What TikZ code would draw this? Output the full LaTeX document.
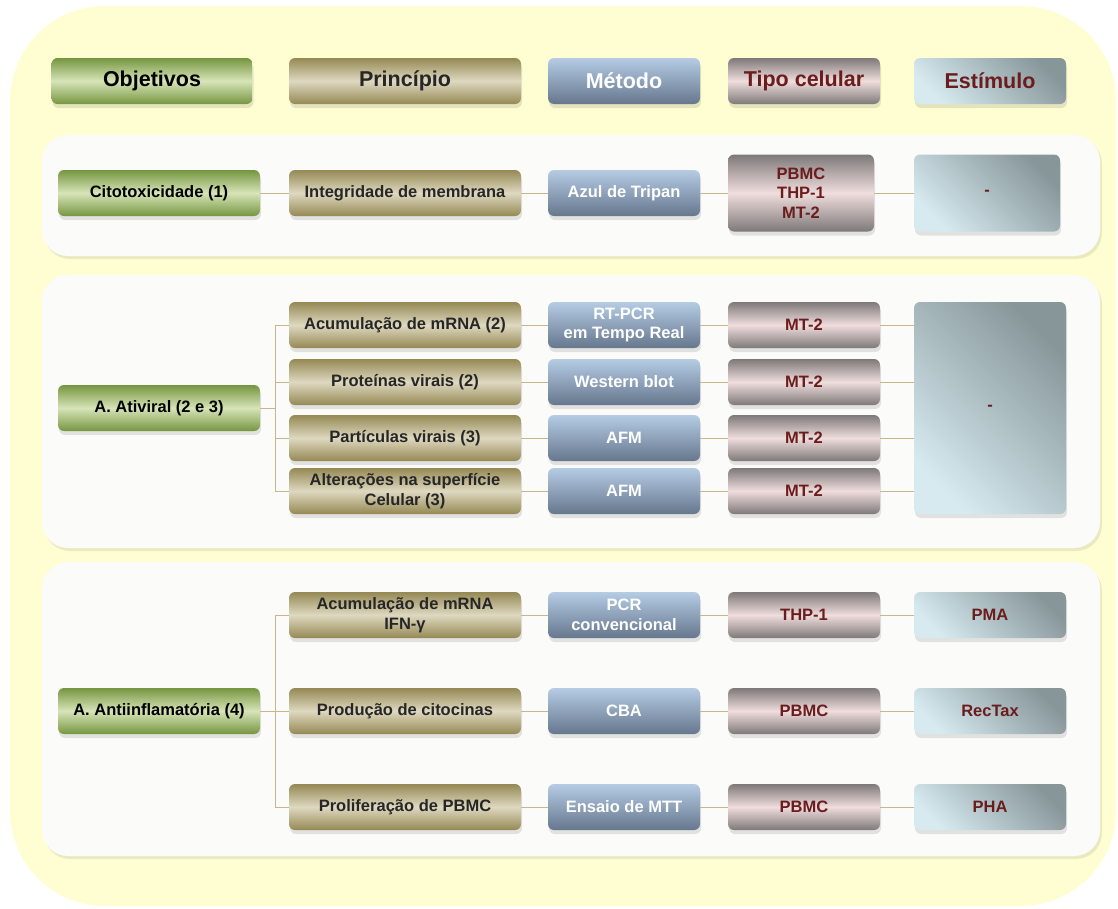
\documentclass[tikz,border=0pt]{standalone}
\usepackage{fontspec}
\setmainfont{Liberation Sans}
\usetikzlibrary{shadows}

\definecolor{bgyellow}{HTML}{FEFED2}
\definecolor{panelgray}{HTML}{FBFBFA}
\definecolor{greendark}{HTML}{759640}
\definecolor{greenlight}{HTML}{D7E4B8}
\definecolor{olivedark}{HTML}{958954}
\definecolor{olivelight}{HTML}{DED8C0}
\definecolor{bluelight}{HTML}{B5CCE5}
\definecolor{bluedark}{HTML}{66778D}
\definecolor{pinkgray}{HTML}{7E7979}
\definecolor{pinklight}{HTML}{F0DDDD}
\definecolor{cyanlight}{HTML}{D6EAF0}
\definecolor{cyandark}{HTML}{879699}
\definecolor{darkred}{HTML}{6B1C1C}
\definecolor{linkcol}{HTML}{C8B78C}

\tikzset{
  box/.style={rounded corners=6pt, inner sep=0pt, minimum height=46pt, align=center,
    font=\fontsize{16.5}{19.5}\selectfont\bfseries,
    drop shadow={shadow xshift=1pt, shadow yshift=-4pt, opacity=0.10, fill=black}},
  headbox/.style={box, font=\fontsize{21.5}{24}\selectfont\bfseries},
  objbox/.style={top color=greendark, bottom color=greendark, middle color=greenlight,
    minimum width=202pt},
  prbox/.style={top color=olivedark, bottom color=olivedark, middle color=olivelight,
    minimum width=232pt, text=black!85},
  mebox/.style={top color=bluelight, bottom color=bluedark, minimum width=152pt, text=white},
  cebox/.style={top color=pinkgray, bottom color=pinkgray, middle color=pinklight,
    minimum width=152pt, text=darkred},
  stbox/.style={bottom color=cyanlight, top color=cyandark, shading angle=-45,
    minimum width=152pt, text=darkred},
  panel/.style={fill=panelgray, rounded corners=26pt,
    drop shadow={shadow xshift=2pt, shadow yshift=-3pt, opacity=0.08, fill=black}},
  link/.style={draw=linkcol, line width=1pt}
}

\begin{document}
\begin{tikzpicture}[x=1pt, y=-1pt]
  \useasboundingbox (0,0) rectangle (1118,908);
  % Background
  \fill [bgyellow, rounded corners=95pt] (10,6) rectangle (1116,906);
  \fill [panel] (42,135) rectangle (1100,256);
  \fill [panel] (42,275) rectangle (1100,548);
  \fill [panel] (42,562) rectangle (1100,856);

  % Header
  \node [headbox, objbox, minimum width=201pt] (hobj) at (152,81) {Objetivos};
  \node [headbox, prbox] (hpr) at (405,81) {Princípio};
  \node [headbox, mebox] (hme) at (624,81) {Método};
  \node [headbox, cebox] (hce) at (804,81) {Tipo celular};
  \node [headbox, stbox] (hst) at (990,81) {Estímulo};

  % Citotoxicidade
  \node [box, objbox] (obj1) at (159,193) {Citotoxicidade (1)};
  \node [box, prbox] (pr1) at (405,193) {Integridade de membrana};
  \node [box, mebox] (me1) at (624,193) {Azul de Tripan};
  \node [box, cebox, minimum width=146pt, minimum height=77pt] (ce1) at (801,193) {PBMC\\THP-1\\MT-2};
  \node [box, stbox, minimum width=146pt, minimum height=77pt] (st1) at (987,193) {-};
  \draw [link] (obj1) -- (pr1);
  \draw [link] (pr1) -- (me1);
  \draw [link] (me1) -- (ce1);
  \draw [link] (ce1) -- (st1);

  % Atividade antiviral
  \node [box, objbox] (obj2) at (159,408) {A. Ativiral (2 e 3)};
  \node [box, prbox] (pr2a) at (405,325) {Acumulação de mRNA (2)};
  \node [box, prbox] (pr2b) at (405,382) {Proteínas virais (2)};
  \node [box, prbox] (pr2c) at (405,438) {Partículas virais (3)};
  \node [box, prbox] (pr2d) at (405,491) {Alterações na superfície\\Celular (3)};
  \node [box, mebox] (me2a) at (624,325) {RT-PCR\\em Tempo Real};
  \node [box, mebox] (me2b) at (624,382) {Western blot};
  \node [box, mebox] (me2c) at (624,438) {AFM};
  \node [box, mebox] (me2d) at (624,491) {AFM};
  \node [box, cebox] (ce2a) at (804,325) {MT-2};
  \node [box, cebox] (ce2b) at (804,382) {MT-2};
  \node [box, cebox] (ce2c) at (804,438) {MT-2};
  \node [box, cebox] (ce2d) at (804,491) {MT-2};
  \node [box, stbox, minimum height=212pt] (st2) at (990,408) {-};
  \coordinate (t2) at (275,408);
  \draw [link] (obj2) -- (t2);
  \draw [link] (t2 |- pr2a) -- (t2 |- pr2d);
  \foreach \r in {a,b,c,d} {
    \draw [link] (t2 |- pr2\r) -- (pr2\r);
    \draw [link] (pr2\r) -- (me2\r);
    \draw [link] (me2\r) -- (ce2\r);
    \draw [link] (ce2\r.east) -- (ce2\r.east -| st2.west);
  }

  % Atividade antiinflamatoria
  \node [box, objbox] (obj3) at (159,711) {A. Antiinflamatória (4)};
  \node [box, prbox] (pr3a) at (405,615) {Acumulação de mRNA\\IFN-γ};
  \node [box, prbox] (pr3b) at (405,711) {Produção de citocinas};
  \node [box, prbox] (pr3c) at (405,807) {Proliferação de PBMC};
  \node [box, mebox] (me3a) at (624,615) {PCR\\convencional};
  \node [box, mebox] (me3b) at (624,711) {CBA};
  \node [box, mebox] (me3c) at (624,807) {Ensaio de MTT};
  \node [box, cebox] (ce3a) at (804,615) {THP-1};
  \node [box, cebox] (ce3b) at (804,711) {PBMC};
  \node [box, cebox] (ce3c) at (804,807) {PBMC};
  \node [box, stbox] (st3a) at (990,615) {PMA};
  \node [box, stbox] (st3b) at (990,711) {RecTax};
  \node [box, stbox] (st3c) at (990,807) {PHA};
  \coordinate (t3) at (275,711);
  \draw [link] (obj3) -- (t3);
  \draw [link] (t3 |- pr3a) -- (t3 |- pr3c);
  \foreach \r in {a,b,c} {
    \draw [link] (t3 |- pr3\r) -- (pr3\r);
    \draw [link] (pr3\r) -- (me3\r);
    \draw [link] (me3\r) -- (ce3\r);
    \draw [link] (ce3\r) -- (st3\r);
  }
\end{tikzpicture}
\end{document}
